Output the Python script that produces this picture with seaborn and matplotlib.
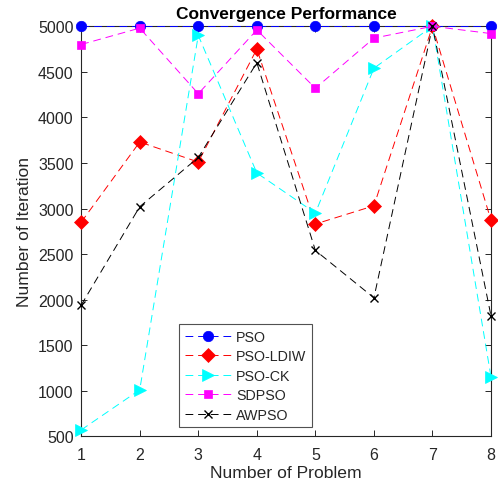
import matplotlib
matplotlib.use("Agg")
import matplotlib.pyplot as plt
import seaborn as sns
import pandas as pd

# Iterations needed by each algorithm on the 8 benchmark problems
problems = [1, 2, 3, 4, 5, 6, 7, 8]
pso = [5000, 5000, 5000, 5000, 5000, 5000, 5000, 5000]
pso_ldiw = [2850, 3730, 3510, 4750, 2830, 3030, 5000, 2870]
pso_ck = [570, 1010, 4900, 3390, 2950, 4540, 5000, 1150]
sdpso = [4800, 4980, 4260, 4960, 4320, 4870, 5000, 4920]
awpso = [1940, 3020, 3560, 4600, 2540, 2020, 5000, 1820]

series = {
    "PSO": pso,
    "PSO-LDIW": pso_ldiw,
    "PSO-CK": pso_ck,
    "SDPSO": sdpso,
    "AWPSO": awpso,
}
styles = {
    "PSO": dict(color="#0000ff", marker="o", markersize=7.5),
    "PSO-LDIW": dict(color="#ff0000", marker="D", markersize=7),
    "PSO-CK": dict(color="#00ffff", marker=">", markersize=8),
    "SDPSO": dict(color="#ff00ff", marker="s", markersize=5.5),
    "AWPSO": dict(color="#000000", marker="x", markersize=5.5),
}

df = pd.DataFrame(
    [(name, p, v) for name, vals in series.items() for p, v in zip(problems, vals)],
    columns=["algorithm", "problem", "iterations"],
)

sns.set_theme(style="white")
plt.rcParams["font.family"] = ["Liberation Sans", "DejaVu Sans"]

fig = plt.figure(figsize=(4.98, 4.89), dpi=100)
ax = fig.add_axes([0.163, 0.1057, 0.823, 0.8385])

for name in series:
    sub = df[df["algorithm"] == name]
    st = styles[name]
    sns.lineplot(
        data=sub, x="problem", y="iterations", ax=ax,
        color=st["color"], marker=st["marker"], markersize=st["markersize"],
        markeredgecolor=st["color"], markerfacecolor=st["color"],
        markeredgewidth=1.0 if name == "AWPSO" else 0.5,
        linewidth=0.7, linestyle=(0, (8, 5)), label=name, clip_on=False,
        zorder=3,
    )

ax.set_xlim(1, 8)
ax.set_ylim(500, 5000)
ax.set_xticks(problems)
ax.set_yticks(range(500, 5001, 500))

dark = "#262626"
for sp in ax.spines.values():
    sp.set_color(dark)
    sp.set_linewidth(0.8)
    sp.set_visible(True)
ax.tick_params(direction="in", length=4, width=0.7, colors=dark,
               labelsize=11.5, top=True, right=True, bottom=True, left=True)
ax.tick_params(axis="x", pad=8)
ax.tick_params(axis="y", pad=5.5)

ax.set_xlabel("Number of Problem", fontsize=12.6, color=dark, labelpad=2)
ax.set_ylabel("Number of Iteration", fontsize=12.6, color=dark, labelpad=4)
ax.set_title("Convergence Performance", fontsize=12.5, fontweight="bold",
             color="black", pad=6)

leg = ax.legend(loc="lower left", bbox_to_anchor=(0.239, 0.022),
                fontsize=10.3, frameon=True, fancybox=False,
                handlelength=3.3, handletextpad=0.3, borderpad=0.4,
                labelspacing=0.38, borderaxespad=0)
leg.get_frame().set_edgecolor(dark)
leg.get_frame().set_linewidth(0.8)

fig.savefig("out.png", dpi=100)
